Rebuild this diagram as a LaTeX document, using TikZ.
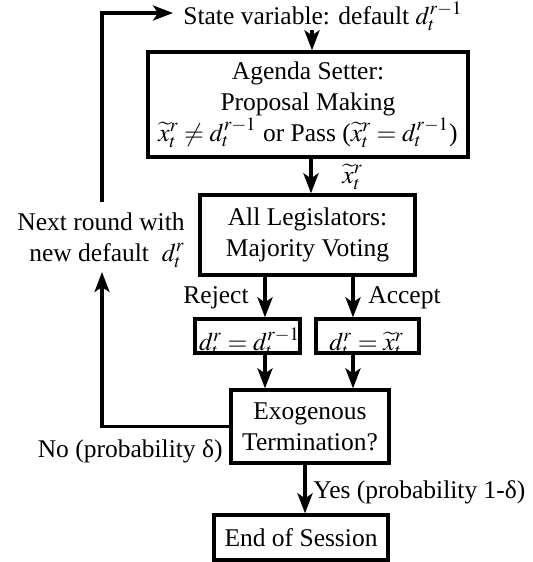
\documentclass[tikz,border=0pt]{standalone}
\usepackage{mathptmx}
\usepackage{fontspec}
\setmainfont{Liberation Serif}
\usetikzlibrary{arrows.meta,calc}
\begin{document}
\begin{tikzpicture}[x=0.5pt,y=-0.5pt,
  every node/.style={font=\fontsize{12.75pt}{15.5pt}\selectfont, inner sep=0pt},
  box/.style={draw, line width=1.6pt, align=center},
  tip/.style={-{Stealth[length=10pt,width=7.5pt,inset=2.5pt]}},
  arr/.style={line width=2pt, tip},
  loopline/.style={line width=1.7pt}]
\useasboundingbox (0,0) rectangle (532,562);
% nodes
\node[anchor=base west] (stv) at (183,25) {State variable: default $d_t^{r-1}$};
\node[box, minimum width=160pt, minimum height=52.5pt] (b1) at (308,104.5)
  {Agenda Setter:\\ Proposal Making\\ $\widetilde{x}_t^r \neq d_t^{r-1}$ or Pass ($\widetilde{x}_t^r = d_t^{r-1}$)};
\node[anchor=west] (xl) at (342,177) {$\widetilde{x}_t^r$};
\node[box, minimum width=107.5pt, minimum height=40pt] (b2) at (307.5,235) {All Legislators:\\ Majority Voting};
\node[anchor=east, align=right] (nr) at (185,240) {Next round with\\ new default \ $d_t^r$};
\node[anchor=east] (rej) at (249,298) {Reject};
\node[anchor=west] (acc) at (368,298) {Accept};
\node[box, minimum width=52.5pt, minimum height=17pt] (b3) at (247.5,336) {};
\node[box, minimum width=51.5pt, minimum height=17pt] (b4) at (367.5,336) {};
\begin{scope}
  \clip (b3.south west) rectangle (b3.north east);
  \node[anchor=base] (t3) at ($(b3.south)+(2,-4)$) {$d_t^r = d_t^{r-1}$};
\end{scope}
\begin{scope}
  \clip (b4.south west) rectangle (b4.north east);
  \node[anchor=base] (t4) at ($(b4.south)+(-1,-4)$) {$d_t^r = \widetilde{x}_t^r$};
\end{scope}
\node[box, minimum width=79pt, minimum height=36.5pt] (b5) at (310,426.5) {Exogenous\\ Termination?};
\node[anchor=east] (no) at (223,451) {No (probability δ)};
\node[anchor=west] (yes) at (313,492) {Yes (probability 1-δ)};
\node[box, minimum width=87pt, minimum height=22.5pt] (b6) at (301,537.5) {End of Session};
% coordinates
\coordinate (lt) at (102,13);
\coordinate (la) at (173,13);
\coordinate (lm) at (102,202);
\coordinate (lb) at (102,272);
\coordinate (a1) at (312,30);
\coordinate (mx) at (311,0);
\coordinate (rx) at (265,0);
\coordinate (ax) at (353,0);
\coordinate (yx) at (305,0);
% connectors
\draw[loopline, tip] (lm) -- (lt) -- (la);
\draw[loopline, tip] (b5.west) -| (lb);
\draw[arr] (a1) -- (a1 |- b1.north);
\draw[arr] (b1.south -| mx) -- (b2.north -| mx);
\draw[arr] (b2.south -| rx) -- (b3.north -| rx);
\draw[arr] (b2.south -| ax) -- (b4.north -| ax);
\draw[arr] (b3.south -| rx) -- (b5.north -| rx);
\draw[arr] (b4.south -| ax) -- (b5.north -| ax);
\draw[arr] (b5.south -| yx) -- (b6.north -| yx);
\end{tikzpicture}
\end{document}
